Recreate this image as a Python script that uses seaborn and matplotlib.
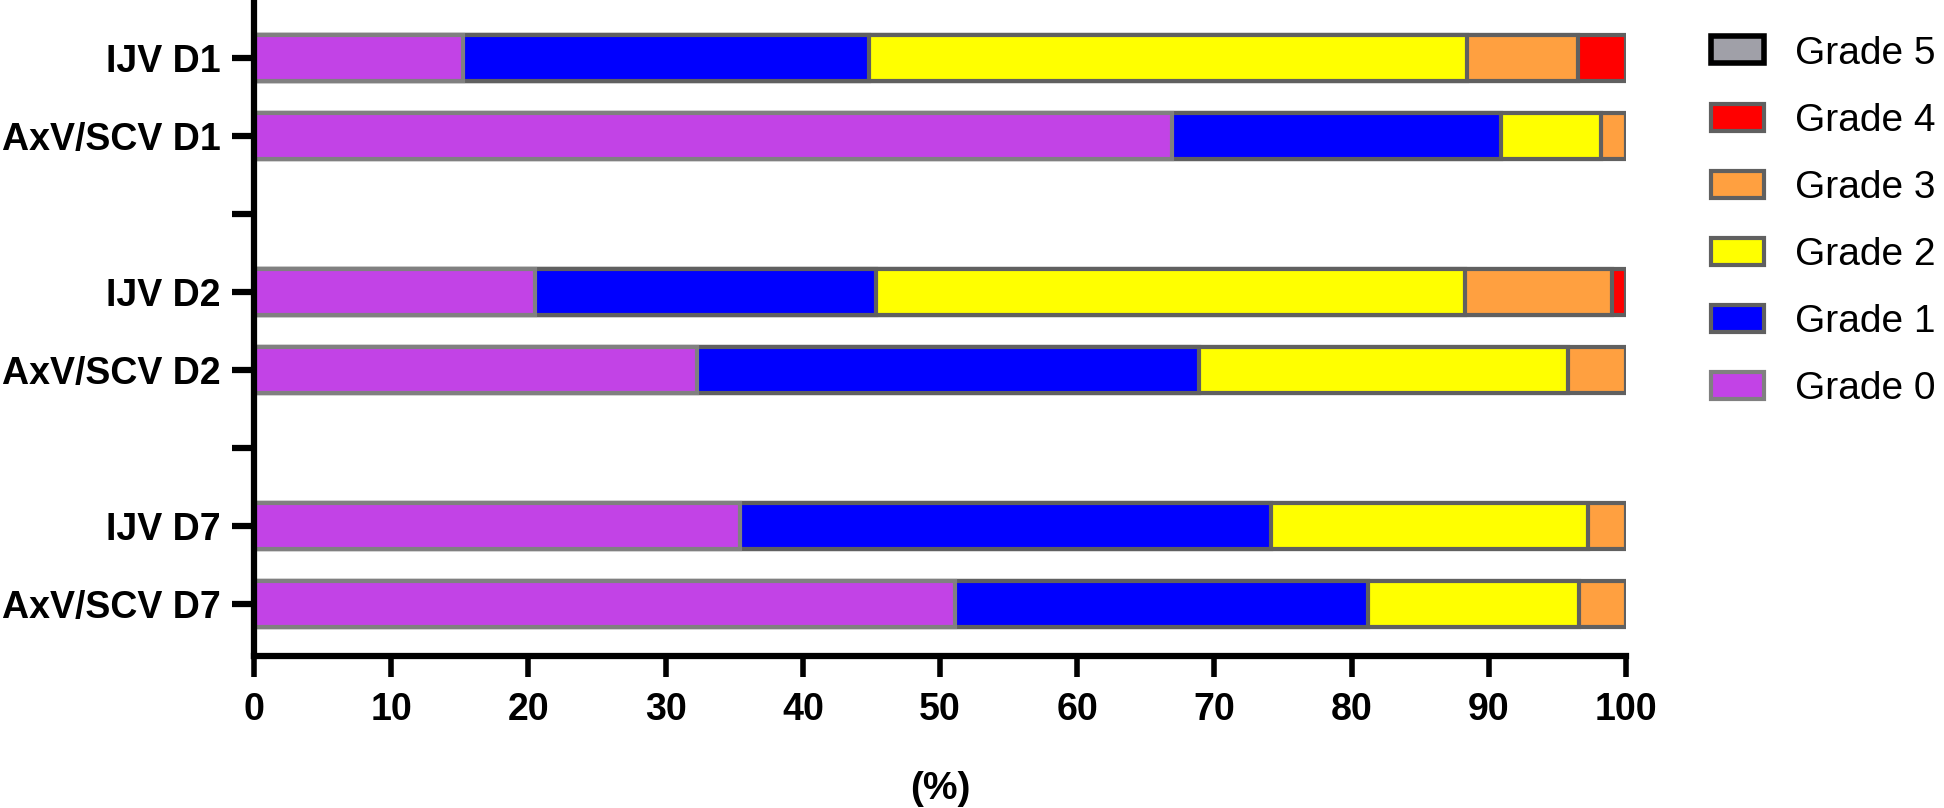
import matplotlib
matplotlib.use("Agg")
import matplotlib.pyplot as plt
from matplotlib.patches import Patch
import pandas as pd
import seaborn as sns

# bar groups (top to bottom), with two empty slots separating the days
slots = ["IJV D1", "AxV/SCV D1", "gap1", "IJV D2", "AxV/SCV D2", "gap2", "IJV D7", "AxV/SCV D7"]
groups = ["IJV D1", "AxV/SCV D1", "IJV D2", "AxV/SCV D2", "IJV D7", "AxV/SCV D7"]
grades = ["Grade 0", "Grade 1", "Grade 2", "Grade 3", "Grade 4", "Grade 5"]

# percentages per grade for each group
grade0 = [15.2, 66.9, 20.5, 32.3, 35.4, 51.1]
grade1 = [29.6, 24.0, 24.8, 36.6, 38.7, 30.1]
grade2 = [43.6, 7.3, 43.0, 26.9, 23.1, 15.4]
grade3 = [8.1, 1.8, 10.7, 4.2, 2.8, 3.4]
grade4 = [3.5, 0.0, 1.0, 0.0, 0.0, 0.0]
grade5 = [0.0, 0.0, 0.0, 0.0, 0.0, 0.0]

fills = ["#C243E6", "#0000FF", "#FFFF00", "#FFA040", "#FF0000", "#A0A0A8"]
edges = ["#808080", "#606060", "#606060", "#606060", "#606060", "#000000"]

sns.set_style("ticks")
plt.rcParams["font.family"] = ["Liberation Sans", "DejaVu Sans"]
plt.rcParams["text.color"] = "black"
plt.rcParams["axes.labelcolor"] = "black"
plt.rcParams["xtick.color"] = "black"
plt.rcParams["ytick.color"] = "black"

df = pd.DataFrame({"group": groups, "Grade 0": grade0, "Grade 1": grade1, "Grade 2": grade2,
                   "Grade 3": grade3, "Grade 4": grade4, "Grade 5": grade5})
cum = df[grades].cumsum(axis=1)

fig = plt.figure(figsize=(19.44, 8.08), dpi=100)
ax = fig.add_axes([0.1307, 0.188, 0.7057, 0.812])

# draw cumulative bars from the highest grade down so lower grades sit on top
for k in range(len(grades) - 1, -1, -1):
    g = grades[k]
    sub = pd.DataFrame({"group": df["group"], "cum": cum[g], "val": df[g]})
    sub = sub[sub["val"] > 0]
    if sub.empty:
        continue
    sns.barplot(data=sub, x="cum", y="group", order=slots, orient="h", color=fills[k],
                edgecolor=edges[k], linewidth=3, width=0.6, saturation=1, errorbar=None, ax=ax)

ax.set_xlim(0, 100)
ax.set_ylim(7.667, -0.744)
ax.set_xticks(range(0, 101, 10))
ax.set_yticks(range(len(slots)))
ax.set_yticklabels([s if not s.startswith("gap") else "" for s in slots])
ax.set_ylabel("")
ax.set_xlabel("(%)", fontsize=28, fontweight="bold", labelpad=31)

for lab in ax.get_xticklabels() + ax.get_yticklabels():
    lab.set_fontweight("bold")
    lab.set_fontsize(27)
ax.tick_params(axis="y", length=16, width=4.5, pad=8, colors="black")
ax.tick_params(axis="x", length=15, width=4, pad=11, colors="black")
for side in ["top", "right"]:
    ax.spines[side].set_visible(False)
for side in ["left", "bottom"]:
    ax.spines[side].set_linewidth(4.5)
    ax.spines[side].set_color("black")

handles = [Patch(facecolor=fills[k], edgecolor=edges[k], linewidth=3 if k < 5 else 4, label=grades[k])
           for k in range(len(grades) - 1, -1, -1)]
fig.legend(handles=handles, loc="upper left", bbox_to_anchor=(0.880, 0.956), frameon=False,
           prop={"family": ["Liberation Sans", "DejaVu Sans"], "size": 28}, labelcolor="black",
           handlelength=1.36, handleheight=0.69, handletextpad=0.8, labelspacing=0.8,
           borderpad=0, borderaxespad=0)

fig.savefig("out.png", dpi=100)
